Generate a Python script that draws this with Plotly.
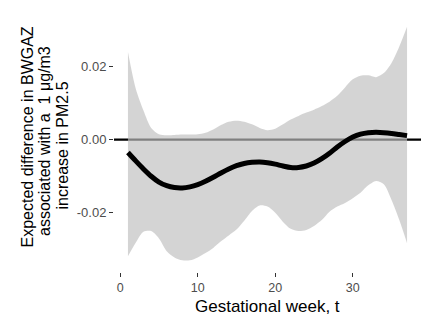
import plotly.graph_objects as go

weeks = list(range(1, 38))
estimate = [-0.0035, -0.0058, -0.0080, -0.0100, -0.0116, -0.0126, -0.0131, -0.0132,
            -0.0129, -0.0123, -0.0114, -0.0103, -0.0091, -0.0080, -0.0071, -0.0065,
            -0.0062, -0.0061, -0.0063, -0.0067, -0.0072, -0.0076, -0.0076, -0.0072,
            -0.0064, -0.0052, -0.0037, -0.0020, -0.0005, 0.0007, 0.0015, 0.0019,
            0.0020, 0.0019, 0.0017, 0.0014, 0.0011]
upper = [0.0240, 0.0140, 0.0080, 0.0032, 0.0015, 0.0012, 0.0013, 0.0014, 0.0014,
         0.0015, 0.0019, 0.0028, 0.0040, 0.0049, 0.0052, 0.0049, 0.0042, 0.0032,
         0.0026, 0.0030, 0.0042, 0.0055, 0.0065, 0.0074, 0.0082, 0.0092, 0.0104,
         0.0120, 0.0143, 0.0165, 0.0175, 0.0176, 0.0171, 0.0182, 0.0210, 0.0255,
         0.0309]
lower = [-0.0319, -0.0282, -0.0252, -0.0250, -0.0270, -0.0305, -0.0322, -0.0330,
         -0.0330, -0.0322, -0.0310, -0.0296, -0.0278, -0.0262, -0.0246, -0.0222,
         -0.0195, -0.0180, -0.0183, -0.0200, -0.0225, -0.0244, -0.0250, -0.0247,
         -0.0236, -0.0220, -0.0197, -0.0183, -0.0173, -0.0160, -0.0145, -0.0125,
         -0.0113, -0.0122, -0.0165, -0.0220, -0.0283]

x_ticks = [0, 10, 20, 30]
y_ticks = [-0.02, 0.0, 0.02]
y_tick_labels = ["-0.02", "0.00", "0.02"]
x_title = "Gestational week, t"
y_title_lines = ["Expected difference in BWGAZ", "associated with a  1 μg/m3", "increase in PM2.5"]

FONT = "Liberation Sans, Arial, Helvetica, sans-serif"

xmin, xmax = min(weeks), max(weeks)
xpad = (xmax - xmin) * 0.05
ymin, ymax = min(lower), max(upper)
ypad = (ymax - ymin) * 0.05

fig = go.Figure()
fig.add_trace(go.Scatter(x=weeks, y=lower, mode="lines",
                         line=dict(width=0, shape="spline", smoothing=0.8),
                         hoverinfo="skip", showlegend=False))
fig.add_trace(go.Scatter(x=weeks, y=upper, mode="lines", fill="tonexty",
                         fillcolor="rgba(191,191,191,0.67)",
                         line=dict(width=0, shape="spline", smoothing=0.8),
                         hoverinfo="skip", showlegend=False))
fig.add_trace(go.Scatter(x=weeks, y=estimate, mode="lines",
                         line=dict(color="black", width=5, shape="spline", smoothing=0.8),
                         showlegend=False))

fig.add_shape(type="line", xref="paper", x0=0, x1=1, yref="y", y0=0, y1=0,
              line=dict(color="black", width=2.2), layer="below")

# y-axis title: three rotated lines (left of panel)
x_shifts = [-87, -69.5, -52]
y_shifts = [6, 2, -2]
for line, xs, ys in zip(y_title_lines, x_shifts, y_shifts):
    fig.add_annotation(text=line, xref="paper", yref="paper", x=0, y=0.5,
                       xanchor="center", yanchor="middle", xshift=xs, yshift=ys,
                       textangle=-90, showarrow=False,
                       font=dict(family=FONT, size=16, color="black"))

fig.add_annotation(text=x_title, xref="paper", yref="paper", x=0.5, y=0,
                   xanchor="center", yanchor="middle", yshift=-34, showarrow=False,
                   font=dict(family=FONT, size=17, color="black"))

fig.update_layout(
    width=428, height=323,
    margin=dict(l=114, r=7, t=15, b=51),
    paper_bgcolor="white", plot_bgcolor="white",
    font=dict(family=FONT, size=12, color="#4d4d4d"),
    xaxis=dict(range=[xmin - xpad, xmax + xpad], tickvals=x_ticks,
               ticks="outside", ticklen=4, tickwidth=1, tickcolor="#333333",
               showgrid=False, zeroline=False, showline=False,
               tickfont=dict(size=12.5, color="#4d4d4d")),
    yaxis=dict(range=[ymin - ypad, ymax + ypad], tickvals=y_ticks,
               ticktext=y_tick_labels,
               ticks="outside", ticklen=4, tickwidth=1, tickcolor="#333333",
               showgrid=False, zeroline=False, showline=False,
               tickfont=dict(size=13, color="#4d4d4d")),
)

fig.write_html("out.html")
